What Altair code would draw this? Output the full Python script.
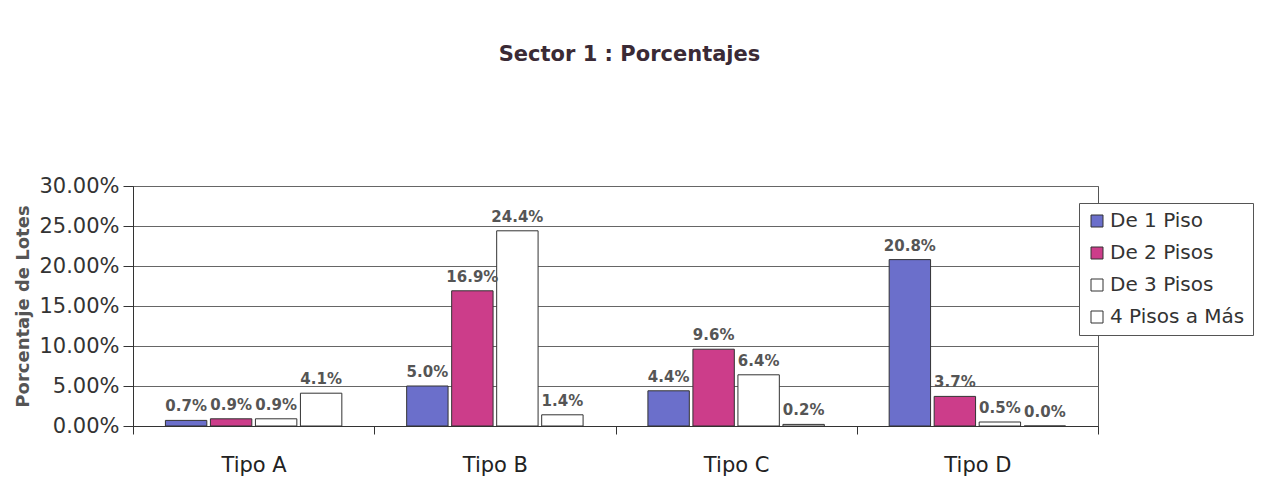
import altair as alt
import pandas as pd

categories = ["Tipo A", "Tipo B", "Tipo C", "Tipo D"]
series = ["De 1 Piso", "De 2 Pisos", "De 3 Pisos", "4 Pisos a Más"]
de1 = [0.7, 5.0, 4.4, 20.8]
de2 = [0.9, 16.9, 9.6, 3.7]
de3 = [0.9, 24.4, 6.4, 0.5]
de4 = [4.1, 1.4, 0.2, 0.0]
y_ticks = [0, 5, 10, 15, 20, 25, 30]
colors = ["#6b6fcb", "#cc3d8a", "#ffffff", "#ffffff"]

rows = []
for s, vals in zip(series, [de1, de2, de3, de4]):
    for c, v in zip(categories, vals):
        rows.append({"tipo": c, "serie": s, "valor": v, "etiqueta": f"{v:.1f}%"})
df = pd.DataFrame(rows)

font = "DejaVu Sans"

x = alt.X("tipo:N", sort=categories, title=None,
          scale=alt.Scale(paddingInner=0, paddingOuter=0),
          axis=alt.Axis(labelAngle=0, labelFontSize=21, labelColor="#222", labelFont=font,
                        tickBand="extent", tickSize=8, tickColor="#333", domainColor="#333",
                        labelPadding=20, grid=False))
xoff = alt.XOffset("serie:N", sort=series,
                   scale=alt.Scale(paddingInner=0.08, paddingOuter=0.72))
y = alt.Y("valor:Q", scale=alt.Scale(domain=[0, 30]),
          title="Porcentaje de Lotes",
          axis=alt.Axis(values=y_ticks,
                        labelExpr="format(datum.value, '.2f') + '%'",
                        labelOverlap=False,
                        labelFontSize=21, labelColor="#333", labelFont=font,
                        tickSize=10, tickColor="#333", domainColor="#333",
                        gridColor="#666", gridWidth=1,
                        titleFontSize=18, titleFont=font, titleColor="#555",
                        titleFontWeight="bold", titlePadding=6, labelPadding=4))

base = alt.Chart(df).encode(x=x, xOffset=xoff, y=y)

bars = base.mark_bar(stroke="#333", strokeWidth=1).encode(
    color=alt.Color("serie:N", sort=series,
                    scale=alt.Scale(domain=series, range=colors),
                    legend=alt.Legend(title=None, orient="none", legendX=946, legendY=17,
                                      symbolType="square", symbolSize=144,
                                      symbolStrokeColor="#333", symbolStrokeWidth=1,
                                      labelFontSize=20, labelFont=font, labelColor="#333",
                                      rowPadding=12, padding=8, strokeColor="#555",
                                      fillColor="white", labelOffset=3)),
)

labels = base.mark_text(baseline="bottom", dy=-6, fontSize=15, fontWeight="bold",
                        color="#555", font=font).encode(text="etiqueta:N")

chart = alt.layer(bars, labels).properties(
    width=965, height=240,
    title=alt.TitleParams("Sector 1 : Porcentajes", fontSize=21, font=font,
                          fontWeight="bold", color="#3a2a35", offset=110,
                          anchor="middle", dx=14),
    padding={"left": 6, "top": 36, "right": 5, "bottom": 5},
).configure_view(stroke="#555", strokeWidth=1)

chart.save("out.html", embed_options={"renderer": "svg", "actions": False})
